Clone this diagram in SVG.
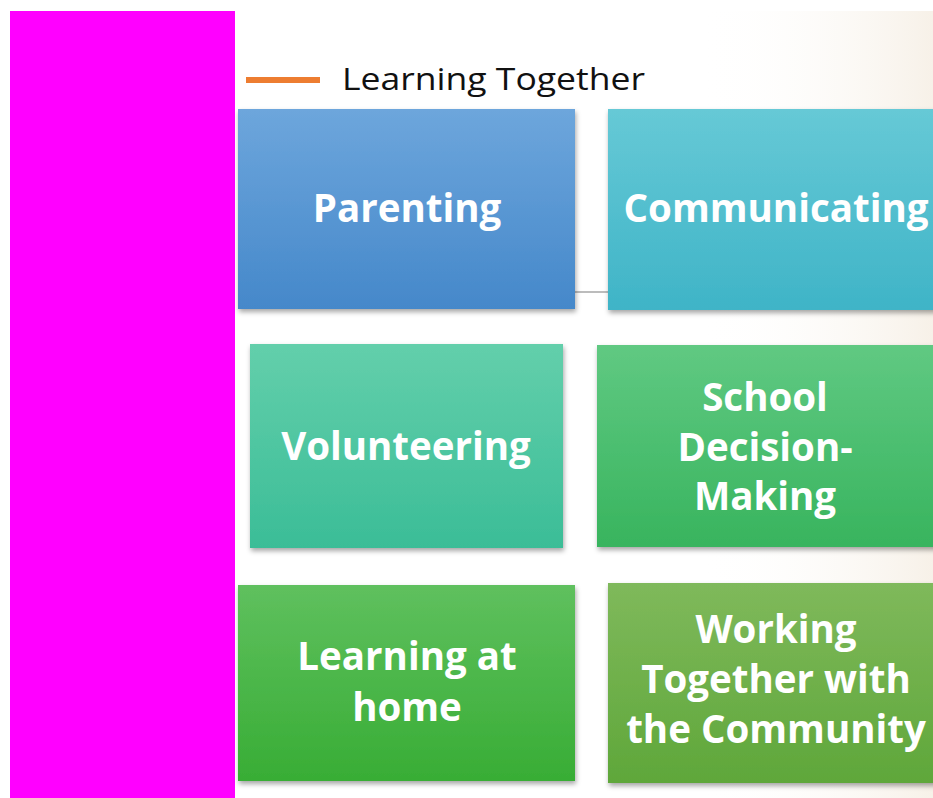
<svg xmlns="http://www.w3.org/2000/svg" width="933" height="798" viewBox="0 0 933 798">
<defs>
<style>
.lbl{font-family:"Open Sans","Noto Sans","Liberation Sans",sans-serif;font-weight:bold;font-size:38.5px;fill:#ffffff;text-anchor:middle}
.title{font-family:"Open Sans","Noto Sans","Liberation Sans",sans-serif;font-size:31px;fill:#111111}
</style>
<linearGradient id="bg" x1="0" y1="0" x2="1" y2="0">
<stop offset="0" stop-color="#ffffff" stop-opacity="0"/>
<stop offset="1" stop-color="#f7f1e8"/>
</linearGradient>
<linearGradient id="gBlue" x1="0" y1="0" x2="0" y2="1"><stop offset="0" stop-color="#6da6dc"/><stop offset="1" stop-color="#4588ca"/></linearGradient>
<linearGradient id="gCyan" x1="0" y1="0" x2="0" y2="1"><stop offset="0" stop-color="#66c9d6"/><stop offset="1" stop-color="#3fb4c7"/></linearGradient>
<linearGradient id="gTeal" x1="0" y1="0" x2="0" y2="1"><stop offset="0" stop-color="#63cfab"/><stop offset="1" stop-color="#3bbd97"/></linearGradient>
<linearGradient id="gGreen" x1="0" y1="0" x2="0" y2="1"><stop offset="0" stop-color="#60c982"/><stop offset="1" stop-color="#38b45e"/></linearGradient>
<linearGradient id="gGreen2" x1="0" y1="0" x2="0" y2="1"><stop offset="0" stop-color="#5fc05e"/><stop offset="1" stop-color="#38ad35"/></linearGradient>
<linearGradient id="gOlive" x1="0" y1="0" x2="0" y2="1"><stop offset="0" stop-color="#7fb95b"/><stop offset="1" stop-color="#5fa73a"/></linearGradient>
<filter id="sh" x="-10%" y="-10%" width="120%" height="125%">
<feDropShadow dx="1" dy="3" stdDeviation="2.5" flood-color="#000000" flood-opacity="0.35"/>
</filter>
</defs>
<rect x="0" y="0" width="933" height="798" fill="#ffffff"/>
<rect x="700" y="11" width="233" height="787" fill="url(#bg)"/>
<rect x="10" y="11" width="225" height="787" fill="#ff00ff"/>
<g id="legend">
<rect x="246" y="77" width="74" height="6" fill="#ed7d31"/>
<text class="title" x="342" y="90" textLength="303" lengthAdjust="spacingAndGlyphs">Learning Together</text>
</g>
<g id="connectors">
<line x1="575" y1="292" x2="608" y2="292" stroke="#a6a6a6" stroke-width="1.5"/>
</g>
<g id="parenting">
<rect x="238" y="109" width="337" height="200" fill="url(#gBlue)" filter="url(#sh)"/>
<text class="lbl" x="407" y="222">Parenting</text>
</g>
<g id="communicating">
<rect x="608" y="109" width="340" height="201" fill="url(#gCyan)" filter="url(#sh)"/>
<text class="lbl" x="776" y="222">Communicating</text>
</g>
<g id="volunteering">
<rect x="250" y="344" width="313" height="204" fill="url(#gTeal)" filter="url(#sh)"/>
<text class="lbl" x="406" y="460">Volunteering</text>
</g>
<g id="decision">
<rect x="597" y="345" width="350" height="202" fill="url(#gGreen)" filter="url(#sh)"/>
<text class="lbl" x="765" y="411">School</text>
<text class="lbl" x="765" y="461">Decision-</text>
<text class="lbl" x="765" y="510">Making</text>
</g>
<g id="learning-home">
<rect x="238" y="585" width="337" height="196" fill="url(#gGreen2)" filter="url(#sh)"/>
<text class="lbl" x="407" y="670">Learning at</text>
<text class="lbl" x="407" y="721">home</text>
</g>
<g id="community">
<rect x="608" y="583" width="340" height="200" fill="url(#gOlive)" filter="url(#sh)"/>
<text class="lbl" x="776" y="643">Working</text>
<text class="lbl" x="776" y="693">Together with</text>
<text class="lbl" x="776" y="743">the Community</text>
</g>
</svg>
